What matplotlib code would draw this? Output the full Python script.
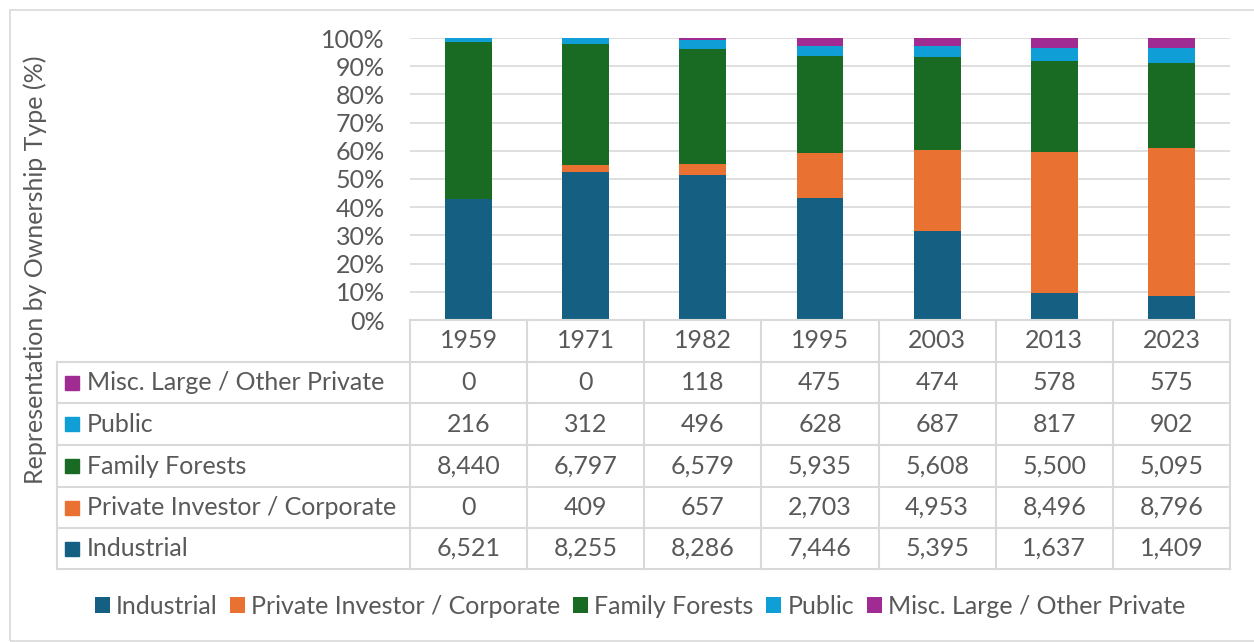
import matplotlib.pyplot as plt
from matplotlib.lines import Line2D
from matplotlib.patches import Rectangle
import numpy as np

plt.rcParams["font.family"] = ["Lato", "DejaVu Sans"]

years = ["1959", "1971", "1982", "1995", "2003", "2013", "2023"]
industrial = [6521, 8255, 8286, 7446, 5395, 1637, 1409]
private_investor = [0, 409, 657, 2703, 4953, 8496, 8796]
family_forests = [8440, 6797, 6579, 5935, 5608, 5500, 5095]
public = [216, 312, 496, 628, 687, 817, 902]
misc_private = [0, 0, 118, 475, 474, 578, 575]

series_names = ["Industrial", "Private Investor / Corporate", "Family Forests",
                "Public", "Misc. Large / Other Private"]
series_vals = [industrial, private_investor, family_forests, public, misc_private]
colors = ["#156082", "#E97132", "#196B24", "#0F9ED5", "#A02B93"]

W, H = 1254, 642
TXT = "#595959"
GRID = "#D9D9D9"
FS = 18


def fx(px):
    return px / W


def fy(py):
    return 1 - py / H


fig = plt.figure(figsize=(W / 100, H / 100), dpi=100)

# outer chart border
fig.add_artist(Rectangle((fx(10), fy(641)), fx(1250), fy(10) - fy(641),
                         transform=fig.transFigure, fill=False, ec=GRID, lw=1.2))

left, right, top, bottom = 410, 1230, 38, 320
ax = fig.add_axes([fx(left), fy(bottom), fx(right - left), fy(top) - fy(bottom)])

data = np.array(series_vals, dtype=float)
totals = data.sum(axis=0)
shares = data / totals
x = np.arange(len(years))
base = np.zeros(len(years))
handles = []
for name, share, c in zip(series_names, shares, colors):
    b = ax.bar(x, share, 0.4, bottom=base, color=c, label=name, zorder=3)
    handles.append(b)
    base += share

ax.set_xlim(-0.5, len(years) - 0.5)
ax.set_ylim(0, 1)
ax.set_yticks(np.arange(0, 1.01, 0.1))
ax.set_yticklabels([f"{int(round(v * 100))}%" for v in np.arange(0, 1.01, 0.1)])
ax.tick_params(axis="y", length=0, pad=18, labelsize=FS, labelcolor=TXT)
ax.set_xticks([])
ax.grid(axis="y", color=GRID, lw=1.2, zorder=0)
for s in ax.spines.values():
    s.set_visible(False)

# data table
tleft = 57
col_w = (right - left) / len(years)
row_edges = [320, 362, 403, 445, 487, 528, 569]
lw = 1.5


def hline(y, x0, x1):
    fig.add_artist(Line2D([fx(x0), fx(x1)], [fy(y), fy(y)], transform=fig.transFigure,
                          color=GRID, lw=lw))


def vline(xp, y0, y1):
    fig.add_artist(Line2D([fx(xp), fx(xp)], [fy(y0), fy(y1)], transform=fig.transFigure,
                          color=GRID, lw=lw))


hline(row_edges[0], left, right)
for y in row_edges[1:]:
    hline(y, tleft, right)
vline(tleft, row_edges[1], row_edges[-1])
for i in range(len(years) + 1):
    vline(left + i * col_w, row_edges[0], row_edges[-1])

for i, yr in enumerate(years):
    fig.text(fx(left + (i + 0.5) * col_w), fy((row_edges[0] + row_edges[1]) / 2), yr,
             ha="center", va="center", fontsize=FS, color=TXT)

row_order = [4, 3, 2, 1, 0]
for r, si in enumerate(row_order):
    yc = (row_edges[r + 1] + row_edges[r + 2]) / 2
    fig.add_artist(Rectangle((fx(65), fy(yc + 7)), fx(14), fy(yc - 7) - fy(yc + 7),
                             transform=fig.transFigure, color=colors[si]))
    fig.text(fx(87), fy(yc), series_names[si], ha="left", va="center",
             fontsize=FS, color=TXT)
    for i, v in enumerate(series_vals[si]):
        fig.text(fx(left + (i + 0.5) * col_w), fy(yc), f"{v:,}",
                 ha="center", va="center", fontsize=FS, color=TXT)

fig.text(fx(35), fy(270), "Representation by Ownership Type (%)", rotation=90,
         ha="center", va="center", fontsize=FS, color=TXT)

leg = fig.legend(handles=handles, labels=series_names, loc="center",
                 bbox_to_anchor=(fx(640), fy(606)), ncol=5, frameon=False,
                 fontsize=FS, handlelength=0.6, handleheight=0.6,
                 handletextpad=0.25, columnspacing=0.5)
for t in leg.get_texts():
    t.set_color(TXT)

fig.savefig("out.png", dpi=100)
